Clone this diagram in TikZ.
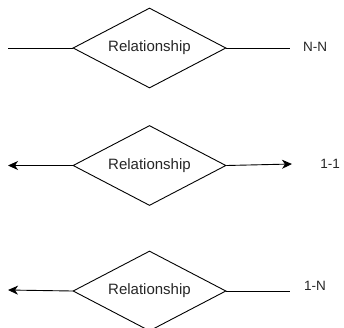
\documentclass[tikz,border=0pt]{standalone}
\usepackage{fontspec}
\setmainfont{Liberation Sans}
\usetikzlibrary{shapes.geometric,arrows.meta}
\begin{document}
\begin{tikzpicture}[x=1pt,y=-1pt,
  rel/.style={draw, diamond, aspect=1.9125, minimum width=153pt, minimum height=80pt,
    inner sep=0pt, line width=0.9pt, font=\fontsize{15}{18}\selectfont, text=black!85},
  lab/.style={inner sep=0pt, font=\fontsize{13.5}{16}\selectfont, text=black!85},
  conn/.style={line width=0.9pt},
  tip/.style={-{Stealth[length=10pt,width=9pt,inset=3pt]}}]
\useasboundingbox (0,0) rectangle (344,327);
\clip (0,0) rectangle (344,327);

% many-to-many
\node[rel] (d1) at (149.5,48) {Relationship};
\coordinate (l1) at (8,48);
\coordinate (r1) at (290,48);
\draw[conn] (l1) -- (d1.west);
\draw[conn] (d1.east) -- (r1);
\node[lab] (t1) at (315,47) {N-N};

% one-to-one
\node[rel] (d2) at (149.5,165.5) {Relationship};
\coordinate (l2) at (8,165.5);
\coordinate (r2) at (292,164);
\draw[conn,tip] (d2.west) -- (l2);
\draw[conn,tip] (d2.east) -- (r2);
\node[lab] (t2) at (330,164) {1-1};

% one-to-many
\node[rel] (d3) at (149.5,291) {Relationship};
\coordinate (l3) at (8,290);
\coordinate (r3) at (290,291);
\draw[conn,tip] (d3.west) -- (l3);
\draw[conn] (d3.east) -- (r3);
\node[lab] (t3) at (315,286) {1-N};
\end{tikzpicture}
\end{document}
